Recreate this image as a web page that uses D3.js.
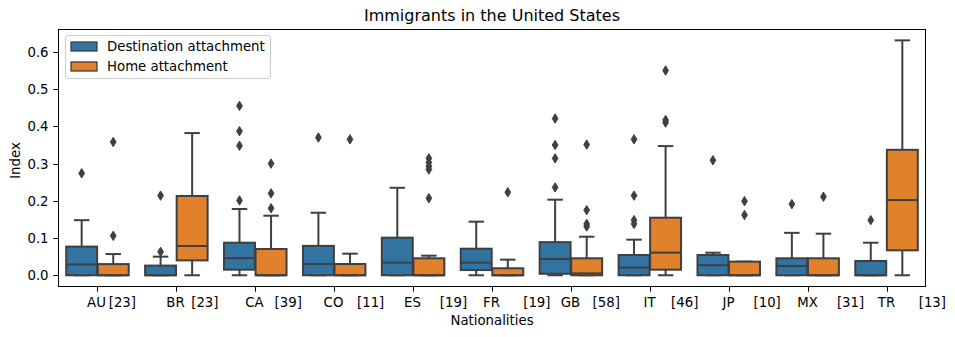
<!DOCTYPE html>
<html>
<head>
<meta charset="utf-8">
<script src="https://cdn.jsdelivr.net/npm/d3@7"></script>
<style>
  html, body { margin: 0; padding: 0; background: #fff; }
  svg { display: block; font-family: "DejaVu Sans", sans-serif; }
</style>
</head>
<body>
<svg id="chart" width="955" height="337"></svg>
<script>
// ---------------- data ----------------
const categories = ["AU", "BR", "CA", "CO", "ES", "FR", "GB", "IT", "JP", "MX", "TR"];
const counts = ["[23]", "[23]", "[39]", "[11]", "[19]", "[19]", "[58]", "[46]", "[10]", "[31]", "[13]"];
const seriesNames = ["Destination attachment", "Home attachment"];
const yTicks = [0.0, 0.1, 0.2, 0.3, 0.4, 0.5, 0.6];

// box stats: [lower whisker, q1, median, q3, upper whisker]
const destinationStats = [
  [0, 0, 0.029, 0.077, 0.148],
  [0, 0, 0, 0.026, 0.050],
  [0, 0.015, 0.046, 0.0875, 0.178],
  [0, 0, 0.030, 0.079, 0.168],
  [0, 0, 0.034, 0.101, 0.235],
  [0, 0.014, 0.034, 0.0714, 0.144],
  [0, 0.004, 0.044, 0.089, 0.203],
  [0, 0, 0.0204, 0.0545, 0.0956],
  [0, 0, 0.027, 0.0545, 0.0607],
  [0, 0, 0.025, 0.0456, 0.114],
  [0, 0, 0, 0.0384, 0.0875]
];
const destinationFliers = [
  [0.274],
  [0.214, 0.063],
  [0.455, 0.387, 0.348, 0.201],
  [0.370],
  [],
  [],
  [0.421, 0.350, 0.314, 0.236],
  [0.365, 0.214, 0.148, 0.138],
  [0.309],
  [0.191],
  [0.148]
];
const homeStats = [
  [0, 0, 0, 0.030, 0.057],
  [0, 0.040, 0.0786, 0.213, 0.382],
  [0, 0, 0, 0.0706, 0.160],
  [0, 0, 0, 0.0303, 0.058],
  [0, 0, 0, 0.0456, 0.0526],
  [0, 0, 0, 0.0188, 0.042],
  [0, 0, 0.005, 0.0456, 0.1036],
  [0, 0.015, 0.0607, 0.1546, 0.347],
  [0, 0, 0, 0.0366, 0.0366],
  [0, 0, 0, 0.0456, 0.1117],
  [0, 0.067, 0.202, 0.337, 0.631]
];
const homeFliers = [
  [0.358, 0.106],
  [],
  [0.300, 0.220, 0.180],
  [0.365],
  [0.314, 0.303, 0.293, 0.284, 0.207],
  [0.223],
  [0.351, 0.175, 0.138, 0.131],
  [0.550, 0.417, 0.410],
  [0.199, 0.162],
  [0.211],
  []
];

// ---------------- layout ----------------
const plot = { left: 58, right: 926, top: 29, bottom: 287 };
// right edge of each count label, px from its tick (label layout)
const countEndOffsets = [38.5, 42, 46.4, 49.8, 53.6, 58, 48.4, 47.9, 51.3, 55.7, 58.5];
const colors = ["#3274a1", "#e1812c"];
const gray = "#3f3f3f";
const fs = 13.3;

const svg = d3.select("#chart");

const x = d3.scaleLinear().domain([-0.5, categories.length - 0.5]).range([plot.left, plot.right]);
const y = d3.scaleLinear().domain([-0.0315, 0.6615]).range([plot.bottom, plot.top]);

const unit = x(1) - x(0);
const boxW = unit * 0.4 * 0.98;
const capW = boxW * 0.5;
const offsets = [-0.2, 0.2];

const series = [
  { stats: destinationStats, fliers: destinationFliers },
  { stats: homeStats, fliers: homeFliers }
];

const g = svg.append("g");

series.forEach((s, si) => {
  categories.forEach((c, ci) => {
    const cx = x(ci + offsets[si]);
    const [wl, q1, med, q3, wh] = s.stats[ci];
    const bg = g.append("g");
    bg.append("line").attr("x1", cx).attr("x2", cx).attr("y1", y(q3)).attr("y2", y(wh))
      .attr("stroke", gray).attr("stroke-width", 2);
    bg.append("line").attr("x1", cx).attr("x2", cx).attr("y1", y(q1)).attr("y2", y(wl))
      .attr("stroke", gray).attr("stroke-width", 2);
    [wl, wh].forEach(v => {
      bg.append("line").attr("x1", cx - capW / 2).attr("x2", cx + capW / 2)
        .attr("y1", y(v)).attr("y2", y(v)).attr("stroke", gray).attr("stroke-width", 2);
    });
    bg.append("rect").attr("x", cx - boxW / 2).attr("width", boxW)
      .attr("y", y(q3)).attr("height", Math.max(0, y(q1) - y(q3)))
      .attr("fill", colors[si]).attr("stroke", gray).attr("stroke-width", 2);
    bg.append("line").attr("x1", cx - boxW / 2).attr("x2", cx + boxW / 2)
      .attr("y1", y(med)).attr("y2", y(med)).attr("stroke", gray).attr("stroke-width", 2);
    const dh = 4.7, dw = 2.85;
    s.fliers[ci].forEach(v => {
      const fy = y(v);
      bg.append("path")
        .attr("d", `M${cx},${fy - dh}L${cx + dw},${fy}L${cx},${fy + dh}L${cx - dw},${fy}Z`)
        .attr("fill", gray).attr("stroke", gray).attr("stroke-width", 1);
    });
  });
});

// frame
svg.append("rect").attr("x", plot.left + 0.5).attr("y", plot.top + 0.5)
  .attr("width", plot.right - plot.left - 1).attr("height", plot.bottom - plot.top - 1)
  .attr("fill", "none").attr("stroke", "#000").attr("stroke-width", 1);

// y axis
const yAxis = svg.append("g");
yTicks.forEach(t => {
  const ty = Math.round(y(t)) + 0.5;
  yAxis.append("line").attr("x1", plot.left - 4.7).attr("x2", plot.left).attr("y1", ty).attr("y2", ty)
    .attr("stroke", "#000").attr("stroke-width", 1);
  yAxis.append("text").attr("x", plot.left - 9.4).attr("y", ty)
    .attr("text-anchor", "end").attr("dominant-baseline", "central")
    .attr("font-size", fs).attr("fill", "#000").text(d3.format(".1f")(t));
});

// x axis
const xAxis = svg.append("g");
categories.forEach((c, ci) => {
  const tx = Math.round(x(ci)) + 0.5;
  xAxis.append("line").attr("x1", tx).attr("x2", tx).attr("y1", plot.bottom).attr("y2", plot.bottom + 4.7)
    .attr("stroke", "#000").attr("stroke-width", 1);
  xAxis.append("text").attr("x", tx - 1).attr("y", plot.bottom + 20)
    .attr("text-anchor", "middle").attr("font-size", fs).attr("fill", "#000").text(c);
  xAxis.append("text").attr("x", tx + countEndOffsets[ci]).attr("y", plot.bottom + 20)
    .attr("text-anchor", "end").attr("font-size", fs).attr("fill", "#000").text(counts[ci]);
});

// axis labels
svg.append("text").attr("x", (plot.left + plot.right) / 2).attr("y", 325)
  .attr("text-anchor", "middle").attr("font-size", fs).attr("fill", "#000").text("Nationalities");
svg.append("text").attr("transform", `translate(20,160.5) rotate(-90)`)
  .attr("text-anchor", "middle").attr("font-size", fs).attr("fill", "#000").text("Index");

// title
svg.append("text").attr("x", (plot.left + plot.right) / 2).attr("y", 20.5)
  .attr("text-anchor", "middle").attr("font-size", 16).attr("fill", "#000")
  .text("Immigrants in the United States");

// legend
const lg = svg.append("g");
lg.append("rect").attr("x", 65.5).attr("y", 35.5).attr("width", 205).attr("height", 43).attr("rx", 2.5)
  .attr("fill", "#fff").attr("fill-opacity", 0.8).attr("stroke", "#cccccc").attr("stroke-width", 1);
seriesNames.forEach((n, i) => {
  const cy = 46.5 + i * 20;
  lg.append("rect").attr("x", 71).attr("y", cy - 4.5).attr("width", 26).attr("height", 9)
    .attr("fill", colors[i]).attr("stroke", gray).attr("stroke-width", 1.3);
  lg.append("text").attr("x", 107).attr("y", cy).attr("dominant-baseline", "central")
    .attr("font-size", fs).attr("fill", "#000").text(n);
});
</script>
</body>
</html>
